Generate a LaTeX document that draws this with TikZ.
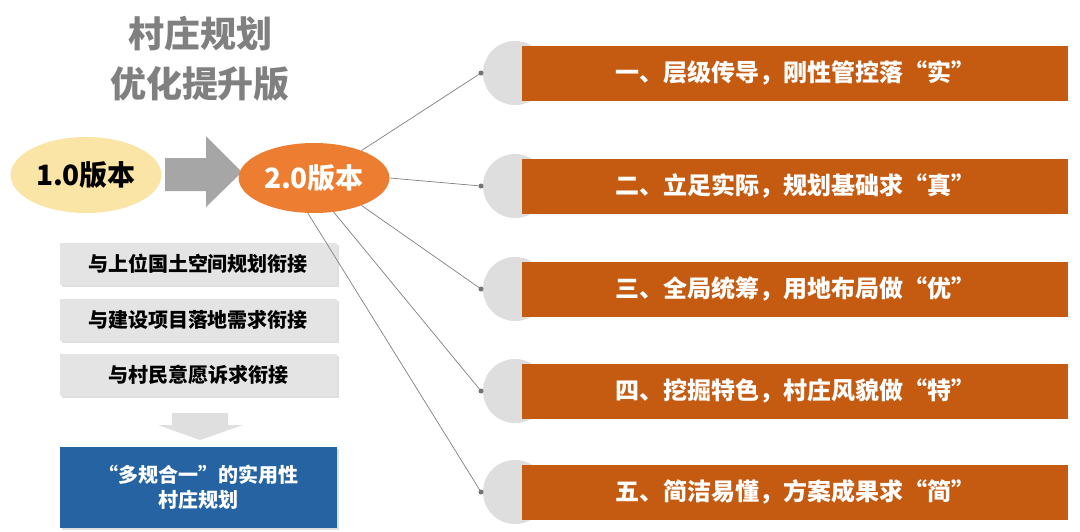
\documentclass[tikz,border=0pt]{standalone}
\usepackage{fontspec}
\setmainfont{Noto Sans CJK SC}
\usetikzlibrary{shapes.geometric,shadows}
\definecolor{barc}{HTML}{C55A11}
\definecolor{orng}{HTML}{ED7D31}
\definecolor{yel}{HTML}{FBE5A6}
\definecolor{circ}{HTML}{DEDEDE}
\definecolor{boxg}{HTML}{E4E4E4}
\definecolor{blu}{HTML}{2563A3}
\definecolor{ttl}{HTML}{808080}
\begin{document}
\begin{tikzpicture}[x=1pt,y=-1pt,
  bar/.style={fill=barc,draw=none,minimum width=546pt,minimum height=55pt,anchor=west,text=white,font=\fontsize{24}{28}\selectfont\bfseries},
  gbox/.style={fill=boxg,draw=none,minimum width=277pt,minimum height=42pt,font=\fontsize{20}{24}\selectfont\bfseries,drop shadow={opacity=0.25,shadow xshift=2pt,shadow yshift=-2pt}},
  dot/.style={circle,fill=gray!90!black,inner sep=0pt,minimum size=5pt},
  lnk/.style={draw=gray,line width=0.7pt}]
\useasboundingbox (0,0) rectangle (1080,531);
\fill[white] (0,0) rectangle (1080,531);
\node[text=ttl,font=\fontsize{36}{40}\selectfont\bfseries] (t1) at (200,34) {村庄规划};
\node[text=ttl,font=\fontsize{36}{40}\selectfont\bfseries] (t2) at (200,84) {优化提升版};
\node[ellipse,fill=yel,minimum width=144pt,minimum height=76pt,font=\fontsize{28}{32}\selectfont\bfseries] (v1) at (86,175) {1.0版本};
\fill[gray!70] (165,158) -- (206,158) -- (206,136) -- (242,172) -- (206,207) -- (206,191) -- (165,191) -- cycle;
\node[ellipse,fill=orng,minimum width=140pt,minimum height=70pt,text=white,font=\fontsize{28}{32}\selectfont\bfseries] (v2) at (314,178) {2.0版本};
\node[gbox] (g1) at (198,264) {与上位国土空间规划衔接};
\node[gbox] (g2) at (198,320) {与建设项目落地需求衔接};
\node[gbox] (g3) at (198,375) {与村民意愿诉求衔接};
\fill[gray!25] (172,413) -- (228,413) -- (228,425) -- (243,425) -- (200,440) -- (158,425) -- (172,425) -- cycle;
\node[fill=blu,minimum width=277pt,minimum height=81pt,text=white,align=center,font=\fontsize{20}{25}\selectfont\bfseries,drop shadow={opacity=0.25,shadow xshift=2pt,shadow yshift=-2pt}] (bl) at (198,487) {“多规合一”的实用性\\村庄规划};
\foreach \i/\y/\t in {1/73/{一、层级传导，刚性管控落“实”},2/186/{二、立足实际，规划基础求“真”},3/289/{三、全局统筹，用地布局做“优”},4/391/{四、挖掘特色，村庄风貌做“特”},5/492/{五、简洁易懂，方案成果求“简”}}{
  \fill[circ] (515,\y) circle (32);
  \node[bar] (b\i) at (522,\y) {\t};
  \node[dot] (d\i) at (481,\y) {};
}
\draw[lnk] (v2.30) -- (d1);
\draw[lnk] (v2.east) -- (d2);
\draw[lnk] (v2.-30) -- (d3);
\draw[lnk] (v2.-60) -- (d4);
\draw[lnk] (v2.-100) -- (d5);
\end{tikzpicture}
\end{document}
